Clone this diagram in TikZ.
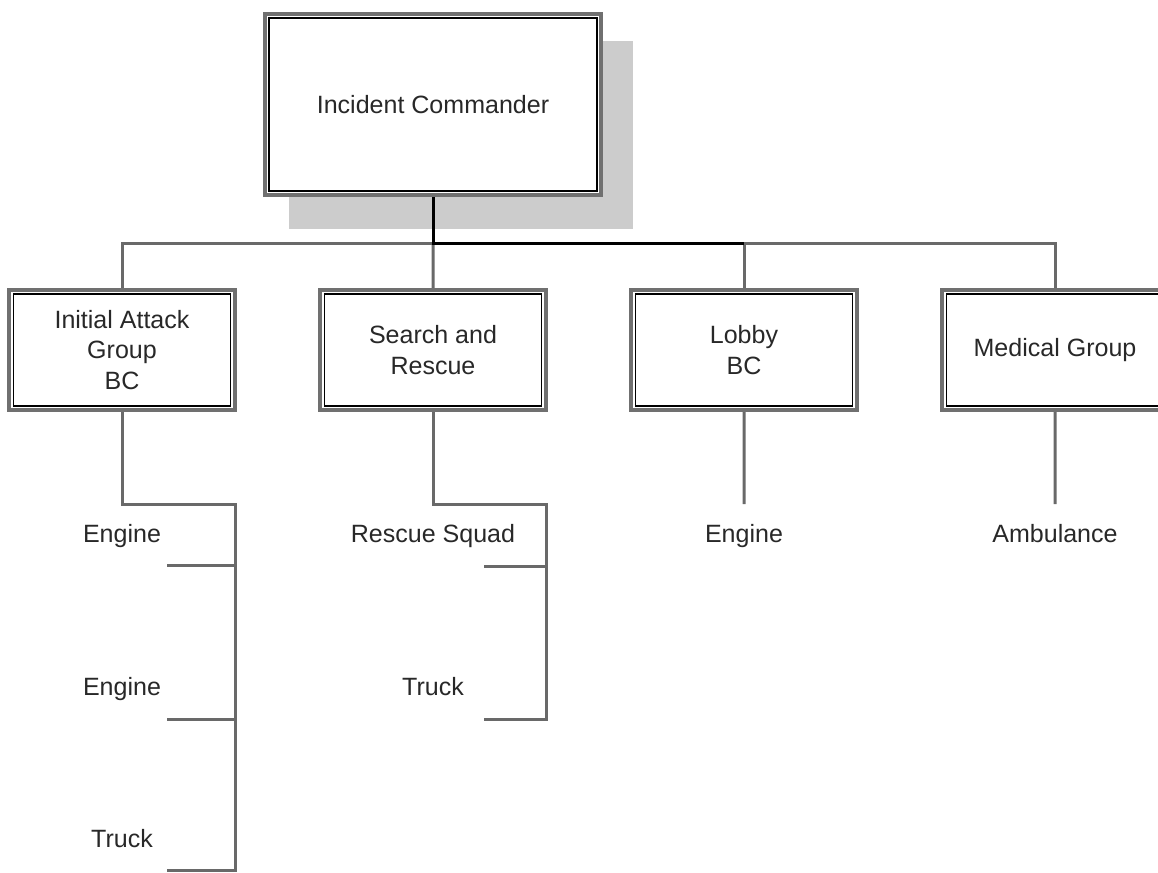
\documentclass[tikz,border=0pt]{standalone}
\usepackage{fontspec}
\setmainfont{Liberation Sans}
\usepackage{tikz}
\usetikzlibrary{calc, positioning, backgrounds}
\definecolor{framegray}{RGB}{112,112,112}
\definecolor{linegray}{RGB}{105,105,105}
\definecolor{shadowgray}{RGB}{204,204,204}
\definecolor{textgray}{RGB}{40,40,40}
\tikzstyle{framed} = [rectangle, draw=black, line width=0.0375cm, fill=white, preaction={draw=framegray, line width=0.315cm}, preaction={draw=white, line width=0.115cm}, text=textgray, align=center, font=\fontsize{17.8}{22}\selectfont]
\tikzstyle{commandbox} = [framed, minimum width=8.2cm, minimum height=4.325cm]
\tikzstyle{groupbox} = [framed, minimum width=5.425cm, minimum height=2.8cm]
\tikzstyle{unitlabel} = [text=textgray, anchor=base, font=\fontsize{17.8}{22}\selectfont]
\tikzstyle{link} = [draw=linegray, line width=0.075cm]
\tikzstyle{boldlink} = [draw=black, line width=0.075cm]

\begin{document}
\begin{tikzpicture}[node distance=7.775cm]

        \useasboundingbox (0,0) rectangle (28.95,-21.825);

        \node (ic) [commandbox] at (10.825,-2.6125) {Incident Commander};
        \node (iag) [groupbox] at (3.05,-8.75) {Initial Attack\\Group\\BC};
        \node (sar) [groupbox, right of=iag] {Search and\\Rescue};
        \node (lob) [groupbox, right of=sar] {Lobby\\BC};
        \node (med) [groupbox, right of=lob] {Medical Group};

        \node (iage1) [unitlabel] at (3.05,-13.55) {Engine};
        \node (iage2) [unitlabel] at (3.05,-17.375) {Engine};
        \node (iagt) [unitlabel] at (3.05,-21.175) {Truck};
        \node (sarrs) [unitlabel] at (10.825,-13.55) {Rescue Squad};
        \node (sart) [unitlabel] at (10.825,-17.375) {Truck};
        \node (lobe) [unitlabel] at (18.6,-13.55) {Engine};
        \node (meda) [unitlabel] at (26.375,-13.55) {Ambulance};

        \coordinate (bus) at (10.825,-6.075);
        \coordinate (iagtop) at (5.875,-12.6);
        \coordinate (iagbot) at (5.875,-21.75);
        \coordinate (iagk1) at (4.175,-14.125);
        \coordinate (iagk2) at (4.175,-17.975);
        \coordinate (iagk3) at (4.175,-21.75);
        \coordinate (sartop) at (13.65,-12.6);
        \coordinate (sarbot) at (13.65,-17.975);
        \coordinate (sark1) at (12.1,-14.15);
        \coordinate (sark2) at (12.1,-17.975);
        \coordinate (lobend) at (18.6,-12.6);
        \coordinate (medend) at (26.375,-12.6);

        \begin{scope}[on background layer]
        \fill [shadowgray] ($(ic.south west)+(0.525,-0.925)$) rectangle ($(ic.north east)+(0.875,-0.6)$);
        \draw [link] (iag.north) |- (bus);
        \draw [link] (sar.north) -- (bus);
        \draw [link] (lob.north) |- (bus);
        \draw [link] (med.north) |- (lob.north |- bus);
        \draw [boldlink] (ic.south) -- (bus) -- (bus -| lob.north);

        \draw [link] (iag.south) |- (iagtop) -- (iagbot) -- (iagk3);
        \draw [link] (iagk1) -- (iagk1 -| iagtop);
        \draw [link] (iagk2) -- (iagk2 -| iagtop);
        \draw [link] (sar.south) |- (sartop) -- (sarbot) -- (sark2);
        \draw [link] (sark1) -- (sark1 -| sartop);
        \draw [link] (lob.south) -- (lobend);
        \draw [link] (med.south) -- (medend);
        \end{scope}

    \end{tikzpicture}
\end{document}
